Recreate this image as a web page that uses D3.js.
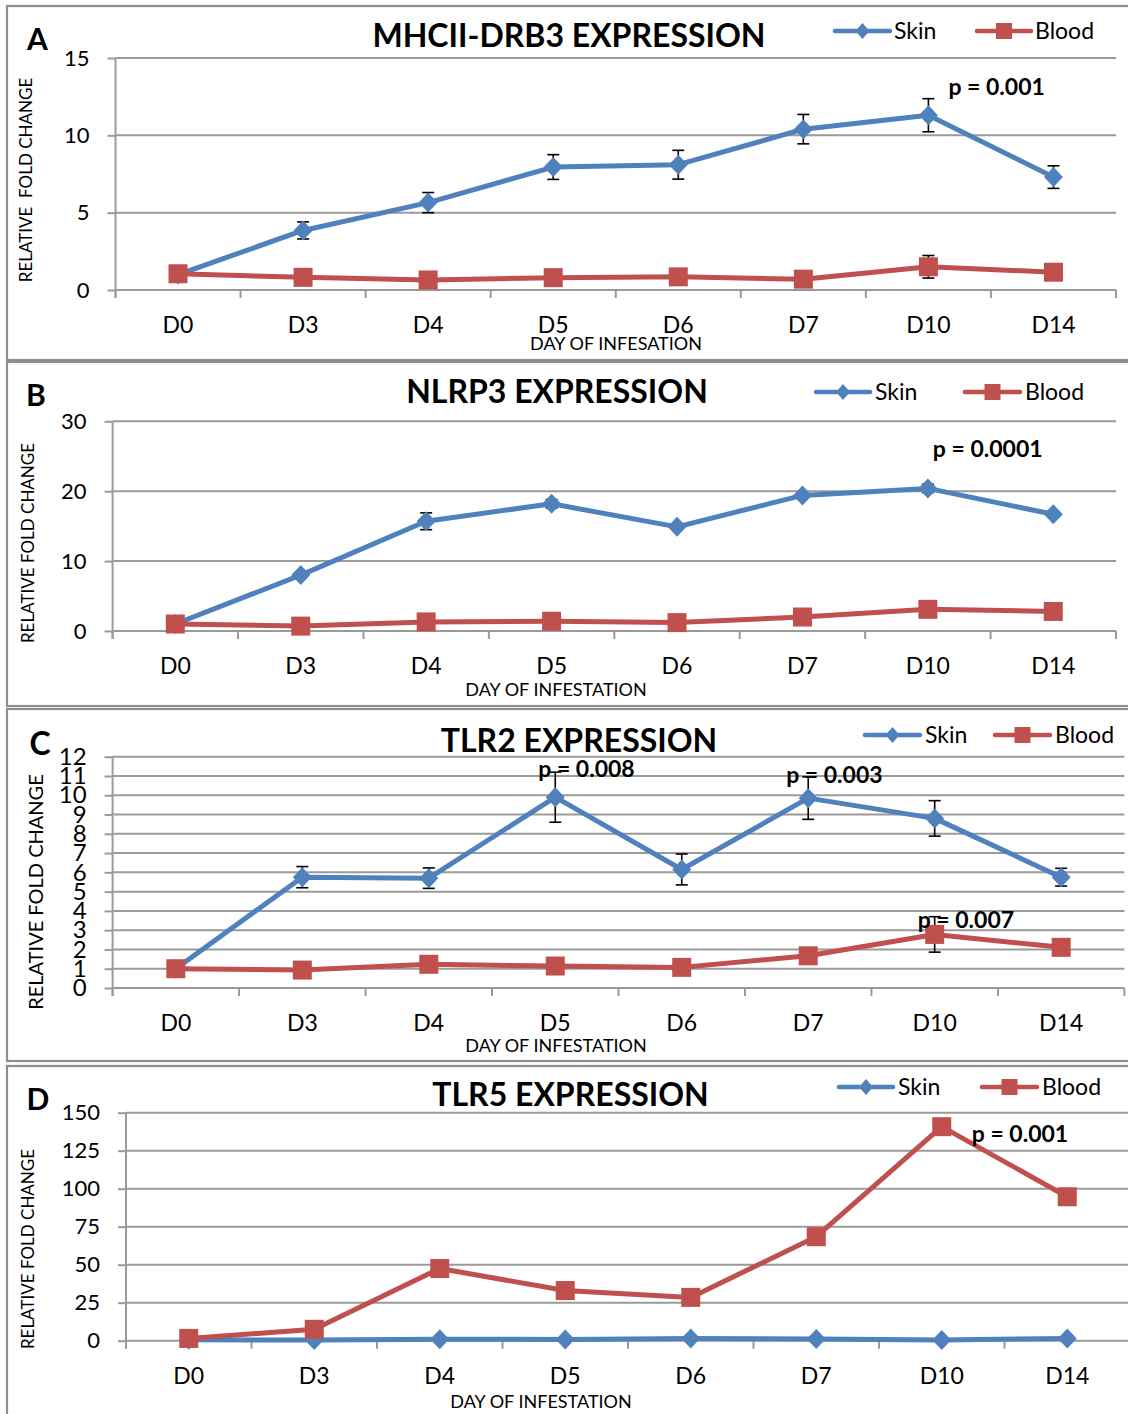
<!DOCTYPE html>
<html>
<head>
<meta charset="utf-8">
<script src="https://cdn.jsdelivr.net/npm/d3@7"></script>
<style>
  body { margin: 0; background: #fff; }
  svg { display: block; font-family: Lato, "Open Sans", sans-serif; }
</style>
</head>
<body>
<svg id="fig" width="1128" height="1414"></svg>
<script>
// Sampling days (x categories shared by all four panels)
const days = ["D0", "D3", "D4", "D5", "D6", "D7", "D10", "D14"];

// A: MHCII-DRB3 relative fold change (mean and error)
const mhcSkin      = [1.0, 3.85, 5.65, 7.95, 8.1, 10.4, 11.3, 7.3];
const mhcSkinErr   = [0, 0.55, 0.65, 0.8, 0.93, 0.95, 1.07, 0.73];
const mhcBlood     = [1.05, 0.82, 0.65, 0.8, 0.85, 0.7, 1.5, 1.15];
const mhcBloodErr  = [0, 0, 0, 0, 0, 0, 0.73, 0];
const mhcTicks     = [0, 5, 10, 15];
const mhcNotes     = [{ day: "D10", text: "p = 0.001" }];

// B: NLRP3
const nlrpSkin     = [1.0, 8.0, 15.7, 18.2, 14.9, 19.4, 20.4, 16.7];
const nlrpSkinErr  = [0, 0.4, 1.2, 0.6, 0.3, 0.3, 0.6, 0.3];
const nlrpBlood    = [1.0, 0.7, 1.3, 1.4, 1.2, 2.0, 3.1, 2.8];
const nlrpBloodErr = [0, 0, 0, 0, 0, 0, 0, 0];
const nlrpTicks    = [0, 10, 20, 30];
const nlrpNotes    = [{ day: "D10", text: "p = 0.0001" }];

// C: TLR2
const tlr2Skin     = [1.0, 5.75, 5.7, 9.9, 6.15, 9.85, 8.8, 5.75];
const tlr2SkinErr  = [0, 0.55, 0.53, 1.3, 0.8, 1.1, 0.92, 0.46];
const tlr2Blood    = [1.0, 0.93, 1.23, 1.14, 1.07, 1.67, 2.78, 2.11];
const tlr2BloodErr = [0, 0, 0, 0, 0, 0, 0.92, 0.3];
const tlr2Ticks    = [0, 1, 2, 3, 4, 5, 6, 7, 8, 9, 10, 11, 12];
const tlr2Notes    = [
  { day: "D5", text: "p = 0.008" },
  { day: "D7", text: "p = 0.003" },
  { day: "D10", text: "p = 0.007" }
];

// D: TLR5
const tlr5Skin     = [0.6, 0.4, 1.0, 0.8, 1.5, 1.2, 0.5, 1.5];
const tlr5SkinErr  = [0, 0, 0, 0, 0, 0, 0, 0];
const tlr5Blood    = [1.5, 7.5, 47.5, 33, 28.5, 68.4, 140.8, 94.7];
const tlr5BloodErr = [0, 0, 0, 0, 0, 0, 0, 0];
const tlr5Ticks    = [0, 25, 50, 75, 100, 125, 150];
const tlr5Notes    = [{ day: "D10", text: "p = 0.001" }];

const seriesNames = ["Skin", "Blood"];
const SKIN = "#4F81BD", BLOOD = "#C0504D";
const GRID = "#9a9a9a", FRAME = "#8e8e8e";

const panels = [
  {
    letter: "A", title: "MHCII-DRB3 EXPRESSION",
    skin: mhcSkin, skinErr: mhcSkinErr, blood: mhcBlood, bloodErr: mhcBloodErr,
    ticks: mhcTicks, notes: mhcNotes,
    yLabel: "RELATIVE  FOLD CHANGE", xLabel: "DAY OF INFESATION",
    L: { top: 6, bottom: 360, x0: 115.5, x1: 1116, yTop: 58, yBot: 290,
         letter: [37.5, 50, 30], title: [569, 47], legY: 31,
         skinLeg: [835, 890, 894], bloodLeg: [977, 1031, 1035],
         xTitle: [616, 350], yTitle: [25, 180, 17], yTickFont: 22,
         notes: [[20, 95]] }
  },
  {
    letter: "B", title: "NLRP3 EXPRESSION",
    skin: nlrpSkin, skinErr: nlrpSkinErr, blood: nlrpBlood, bloodErr: nlrpBloodErr,
    ticks: nlrpTicks, notes: nlrpNotes,
    yLabel: "RELATIVE FOLD CHANGE", xLabel: "DAY OF INFESTATION",
    L: { top: 362, bottom: 706, x0: 112.6, x1: 1116, yTop: 421.3, yBot: 631,
         letter: [36, 406, 30], title: [557, 403], legY: 392,
         skinLeg: [816, 870, 875], bloodLeg: [965, 1020, 1025],
         xTitle: [556, 696], yTitle: [27, 543, 17], yTickFont: 22,
         notes: [[5, 457]] }
  },
  {
    letter: "C", title: "TLR2 EXPRESSION",
    skin: tlr2Skin, skinErr: tlr2SkinErr, blood: tlr2Blood, bloodErr: tlr2BloodErr,
    ticks: tlr2Ticks, notes: tlr2Notes,
    yLabel: "RELATIVE FOLD CHANGE", xLabel: "DAY OF INFESTATION",
    L: { top: 709, bottom: 1061, x0: 112.6, x1: 1124.4, yTop: 756.7, yBot: 988,
         letter: [40, 755, 32], title: [579, 752], legY: 735,
         skinLeg: [865, 920, 925], bloodLeg: [995, 1050, 1055],
         xTitle: [556, 1052], yTitle: [35, 892, 20], yTickFont: 24,
         notes: [[-17, 777], [-22, 783], [-17, 928]] }
  },
  {
    letter: "D", title: "TLR5 EXPRESSION",
    skin: tlr5Skin, skinErr: tlr5SkinErr, blood: tlr5Blood, bloodErr: tlr5BloodErr,
    ticks: tlr5Ticks, notes: tlr5Notes,
    yLabel: "RELATIVE FOLD CHANGE", xLabel: "DAY OF INFESTATION",
    L: { top: 1066, bottom: 1440, x0: 126, x1: 1130, yTop: 1112.7, yBot: 1340.7,
         letter: [38, 1110, 30], title: [570.5, 1106], legY: 1087,
         skinLeg: [839, 893, 898], bloodLeg: [982, 1037, 1042],
         xTitle: [541, 1408], yTitle: [27, 1249, 17], yTickFont: 22,
         notes: [[30, 1142]] }
  }
];

const svg = d3.select("#fig");

const diamond = (w, h) => `M0,${-h}L${w},0L0,${h}L${-w},0Z`;

function drawPanel(p) {
  const L = p.L;
  const g = svg.append("g");

  // panel frame
  g.append("rect")
    .attr("x", 7).attr("y", L.top)
    .attr("width", 1140).attr("height", L.bottom - L.top)
    .attr("fill", "#fff").attr("stroke", FRAME).attr("stroke-width", 2.2);

  const x = d3.scaleBand().domain(days).range([L.x0, L.x1]).padding(0);
  const y = d3.scaleLinear().domain([p.ticks[0], p.ticks[p.ticks.length - 1]]).range([L.yBot, L.yTop]);
  const cx = d => x(d) + x.bandwidth() / 2;

  // horizontal gridlines
  g.append("g").selectAll("line").data(p.ticks).join("line")
    .attr("x1", L.x0).attr("x2", L.x1)
    .attr("y1", d => y(d)).attr("y2", d => y(d))
    .attr("stroke", GRID).attr("stroke-width", 2);

  // y axis with outward ticks
  const ya = g.append("g").attr("transform", `translate(${L.x0},0)`)
    .call(d3.axisLeft(y).tickValues(p.ticks).tickSize(8).tickPadding(18).tickFormat(d3.format("d")));
  ya.select(".domain").remove();
  ya.selectAll(".tick line").attr("stroke", GRID).attr("stroke-width", 2);
  ya.selectAll(".tick text").attr("fill", "#000")
    .style("font-family", "Lato, sans-serif").style("font-size", L.yTickFont + "px");
  g.append("line")
    .attr("x1", L.x0).attr("x2", L.x0).attr("y1", L.yTop).attr("y2", L.yBot + 8)
    .attr("stroke", GRID).attr("stroke-width", 2);

  // x axis: category labels centred in bands, ticks on band boundaries
  const xa = g.append("g").attr("transform", `translate(0,${L.yBot})`)
    .call(d3.axisBottom(x).tickSize(0).tickPadding(27));
  xa.select(".domain").remove();
  xa.selectAll(".tick text").attr("fill", "#000")
    .style("font-family", "Lato, sans-serif").style("font-size", "23px");
  const bounds = days.map(d => x(d)).concat([x.range()[1]]);
  g.append("g").selectAll("line").data(bounds).join("line")
    .attr("x1", d => d).attr("x2", d => d)
    .attr("y1", L.yBot).attr("y2", L.yBot + 8)
    .attr("stroke", GRID).attr("stroke-width", 2);

  // axis titles
  g.append("text").attr("x", L.xTitle[0]).attr("y", L.xTitle[1])
    .attr("text-anchor", "middle").style("font-size", "18px").text(p.xLabel);
  g.append("text")
    .attr("transform", `translate(${L.yTitle[0]},${L.yTitle[1]}) rotate(-90)`)
    .attr("text-anchor", "middle").attr("dominant-baseline", "central")
    .style("font-size", L.yTitle[2] + "px").style("white-space", "pre").text(p.yLabel);

  // panel letter and title
  g.append("text").attr("x", L.letter[0]).attr("y", L.letter[1])
    .attr("text-anchor", "middle").style("font-weight", 700)
    .style("font-size", L.letter[2] + "px").text(p.letter);
  g.append("text").attr("x", L.title[0]).attr("y", L.title[1])
    .attr("text-anchor", "middle").style("font-weight", 700)
    .style("font-size", "32px").text(p.title);

  // series
  const line = d3.line().x((d, i) => cx(days[i])).y(d => y(d));
  const series = [
    { name: seriesNames[0], vals: p.skin, err: p.skinErr, color: SKIN, shape: "diamond" },
    { name: seriesNames[1], vals: p.blood, err: p.bloodErr, color: BLOOD, shape: "square" }
  ];
  series.forEach(s => {
    g.append("path").datum(s.vals).attr("d", line)
      .attr("fill", "none").attr("stroke", s.color).attr("stroke-width", 5)
      .attr("stroke-linejoin", "round");
  });
  series.forEach(s => {
    const eb = g.append("g");
    s.vals.forEach((v, i) => {
      const e = s.err[i];
      if (!e) return;
      const xc = cx(days[i]);
      eb.append("line").attr("x1", xc).attr("x2", xc).attr("y1", y(v - e)).attr("y2", y(v + e))
        .attr("stroke", "#000").attr("stroke-width", 1.6);
      [v - e, v + e].forEach(t => {
        eb.append("line").attr("x1", xc - 6).attr("x2", xc + 6).attr("y1", y(t)).attr("y2", y(t))
          .attr("stroke", "#000").attr("stroke-width", 1.6);
      });
    });
    const mk = g.append("g");
    s.vals.forEach((v, i) => {
      const xc = cx(days[i]), yc = y(v);
      if (s.shape === "diamond") {
        mk.append("path").attr("d", diamond(9.5, 10))
          .attr("transform", `translate(${xc},${yc})`).attr("fill", s.color);
      } else {
        mk.append("rect").attr("x", xc - 9.5).attr("y", yc - 9.5)
          .attr("width", 19).attr("height", 19).attr("fill", s.color);
      }
    });
  });

  // significance notes
  p.notes.forEach((n, k) => {
    g.append("text").attr("x", cx(n.day) + L.notes[k][0]).attr("y", L.notes[k][1])
      .style("font-weight", 700).style("font-size", "23px").text(n.text);
  });

  // legend
  [[series[0], L.skinLeg], [series[1], L.bloodLeg]].forEach(([s, pos]) => {
    const lg = g.append("g");
    lg.append("line").attr("x1", pos[0]).attr("x2", pos[1]).attr("y1", L.legY).attr("y2", L.legY)
      .attr("stroke", s.color).attr("stroke-width", 4.5).attr("stroke-linecap", "round");
    const mx = (pos[0] + pos[1]) / 2;
    if (s.shape === "diamond") {
      lg.append("path").attr("d", diamond(7, 8)).attr("transform", `translate(${mx},${L.legY})`).attr("fill", s.color);
    } else {
      lg.append("rect").attr("x", mx - 8).attr("y", L.legY - 8).attr("width", 16).attr("height", 16).attr("fill", s.color);
    }
    lg.append("text").attr("x", pos[2]).attr("y", L.legY + 8)
      .style("font-size", "23px").text(s.name);
  });
}

panels.forEach(drawPanel);
</script>
</body>
</html>
